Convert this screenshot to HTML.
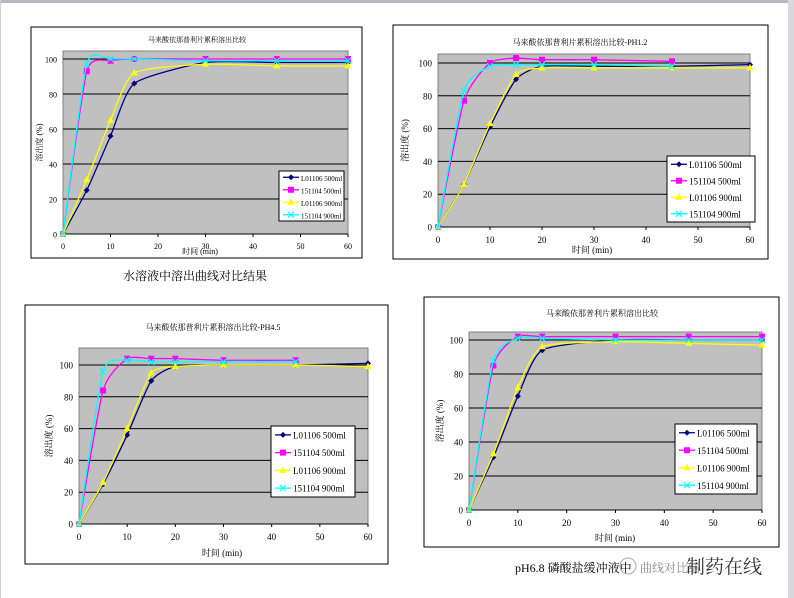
<!DOCTYPE html>
<html><head><meta charset="utf-8"><style>
html,body{margin:0;padding:0;background:#fff}
body{width:794px;height:598px;overflow:hidden;position:relative}
svg{position:absolute;left:0;top:0}
text{font-family:"Liberation Serif","Noto Serif CJK SC",serif;fill:#000}
</style></head><body>
<svg id="s" width="794" height="598" viewBox="0 0 794 598" xmlns="http://www.w3.org/2000/svg">
<rect x="0" y="0" width="794" height="3" fill="#b8b8c0"/>
<rect x="788" y="0" width="6" height="598" fill="#d8d8dc"/>
<rect x="0" y="0" width="1" height="598" fill="#d0d0d0"/>
<text x="195" y="280" font-size="12" text-anchor="middle" font-family="Liberation Sans,Noto Sans CJK SC,sans-serif">水溶液中溶出曲线对比结果</text>
<text x="515" y="572" font-size="12" font-family="Liberation Serif,Noto Serif CJK SC,serif">pH6.8 磷酸盐缓冲液中</text>
<text x="640" y="572" font-size="12" font-family="Liberation Serif,Noto Serif CJK SC,serif" style="fill:#888">曲线对比结</text>
<circle cx="628" cy="566" r="8" fill="none" stroke="#aaa"/>
<text x="686" y="573" font-size="19" font-family="Liberation Sans,Noto Sans CJK SC,sans-serif" style="fill:#333">制药在线</text>
</svg>
<script>
const S=document.getElementById('s');const NS='http://www.w3.org/2000/svg';
function el(t,a,txt){const e=document.createElementNS(NS,t);for(const k in a)e.setAttribute(k,a[k]);if(txt)e.textContent=txt;S.appendChild(e);return e;}
const cols=['#000080','#ff00ff','#ffff00','#00ffff'];
const names=['L01106 500ml','151104 500ml','L01106 900ml','151104 900ml'];
function marker(k,x,y){
 const c=cols[k];
 if(k==0)el('polygon',{points:`${x},${y-3} ${x+3},${y} ${x},${y+3} ${x-3},${y}`,fill:c});
 else if(k==1)el('rect',{x:x-3,y:y-3,width:6,height:6,fill:c});
 else if(k==2)el('polygon',{points:`${x},${y-4} ${x+3.5},${y+2.5} ${x-3.5},${y+2.5}`,fill:c});
 else {el('path',{d:`M${x-3} ${y-3}L${x+3} ${y+3}M${x+3} ${y-3}L${x-3} ${y+3}`,stroke:c,'stroke-width':1.2});}
}
function smooth(p){let d=`M${p[0][0]} ${p[0][1]}`;for(let i=0;i<p.length-1;i++){const p0=p[i-1]||p[i],p1=p[i],p2=p[i+1],p3=p[i+2]||p2;const t=0.1;
d+=`C${p1[0]+(p2[0]-p0[0])*t} ${p1[1]+(p2[1]-p0[1])*t} ${p2[0]-(p3[0]-p1[0])*t} ${p2[1]-(p3[1]-p1[1])*t} ${p2[0]} ${p2[1]}`;}return d;}
function chart(o){
 el('rect',{x:o.fx,y:o.fy,width:o.fw,height:o.fh,fill:'#fff',stroke:'#000','stroke-width':1});
 const X=v=>o.x0+(o.x60-o.x0)*v/60, Y=v=>o.y0+(o.y100-o.y0)*v/100;
 el('rect',{x:o.x0,y:o.top,width:o.x60-o.x0,height:o.y0-o.top,fill:'#c0c0c0',stroke:'#808080','stroke-width':1});
 for(let v=20;v<=100;v+=20)el('line',{x1:o.x0,x2:o.x60,y1:Y(v),y2:Y(v),stroke:'#000','stroke-width':1});
 el('line',{x1:o.x0,x2:o.x60,y1:o.y0,y2:o.y0,stroke:'#000'});
 for(let v=0;v<=100;v+=20)el('text',{x:o.x0-6,y:Y(v)+3.5,'font-size':o.fs,'text-anchor':'end'},String(v));
 for(let v=0;v<=60;v+=10){el('text',{x:X(v),y:o.y0+o.fs+7,'font-size':o.fs,'text-anchor':'middle'},String(v));el('line',{x1:X(v),x2:X(v),y1:o.y0,y2:o.y0+3,stroke:'#000'});}
 el('text',{x:o.tx,y:o.ty,'font-size':o.fs-1,'text-anchor':'middle','font-family':'Liberation Sans,Noto Sans CJK SC,sans-serif'},o.title);
 el('text',{x:o.xlx,y:o.xly,'font-size':o.fs,'text-anchor':'middle','font-family':'Liberation Sans,Noto Sans CJK SC,sans-serif'},'时间 (min)');
 el('text',{x:0,y:0,'font-size':o.fs,'text-anchor':'middle',transform:`translate(${o.ylx},${(o.y0+o.top)/2}) rotate(-90)`},'溶出度 (%)');
 o.data.forEach((d,k)=>{const pts=d.map(q=>[X(q[0]),Y(q[1])]);el('path',{d:smooth(pts),fill:'none',stroke:cols[k],'stroke-width':1.3});pts.forEach(p=>marker(k,p[0],p[1]));});
 const L=o.leg;el('rect',{x:L[0],y:L[1],width:L[2],height:L[3],fill:'#fff',stroke:'#000'});
 for(let k=0;k<4;k++){const yy=L[1]+L[3]*(k+0.5)/4;el('line',{x1:L[0]+4,x2:L[0]+20,y1:yy,y2:yy,stroke:cols[k],'stroke-width':1.3});marker(k,L[0]+12,yy);el('text',{x:L[0]+22,y:yy+3.5,'font-size':o.lfs},names[k]);}
}
chart({fx:31,fy:27,fw:331,fh:231,x0:63,x60:348,y0:234,y100:59,top:51,fs:8,lfs:7,tx:197,ty:42,title:'马来酸依那普利片累积溶出比较',xlx:200,xly:254,ylx:42,leg:[279,171,65,50],
data:[[[0,0],[5,25],[10,56],[15,86],[30,98],[45,98],[60,98]],[[0,0],[5,93],[10,99],[15,100],[30,100],[45,100],[60,100]],[[0,0],[5,31],[10,65],[15,92],[30,97],[45,96],[60,96]],[[0,0],[5,97],[10,100],[15,100],[30,99],[45,99],[60,99]]]});
chart({fx:393,fy:25,fw:375,fh:234,x0:438,x60:750,y0:227,y100:63,top:54,fs:9,lfs:9,tx:580,ty:45,title:'马来酸依那普利片累积溶出比较-PH1.2',xlx:592,xly:253,ylx:408,leg:[667,156,88,66],
data:[[[0,0],[5,26],[10,61],[15,90],[20,98],[30,98],[45,98],[60,99]],[[0,0],[5,77],[10,100],[15,103],[20,102],[30,102],[45,101]],[[0,0],[5,26],[10,63],[15,93],[20,97],[30,97],[45,97],[60,97]],[[0,0],[5,83],[10,98],[15,99],[20,99],[30,99],[45,98]]]});
chart({fx:25,fy:305,fw:363,fh:259,x0:79,x60:368,y0:524,y100:365,top:348,fs:9,lfs:9,tx:213,ty:330,title:'马来酸依那普利片累积溶出比较-PH4.5',xlx:222,xly:556,ylx:52,leg:[271,426,84,71],
data:[[[0,0],[5,25],[10,56],[15,90],[20,99],[30,100],[45,100],[60,101]],[[0,0],[5,84],[10,104],[15,104],[20,104],[30,103],[45,103]],[[0,0],[5,26],[10,60],[15,95],[20,99],[30,100],[45,100],[60,99]],[[0,0],[5,96],[10,103],[15,102],[20,102],[30,102],[45,102]]]});
chart({fx:424,fy:297,fw:355,fh:250,x0:469,x60:762,y0:510,y100:340,top:332,fs:9,lfs:9,tx:602,ty:316,title:'马来酸依那普利片累积溶出比较',xlx:615,xly:541,ylx:443,leg:[675,424,82,70],
data:[[[0,0],[5,31],[10,67],[15,94],[30,100],[45,100],[60,100]],[[0,0],[5,85],[10,102],[15,102],[30,102],[45,102],[60,102]],[[0,0],[5,33],[10,72],[15,96],[30,99],[45,98],[60,97]],[[0,0],[5,88],[10,101],[15,101],[30,100],[45,100],[60,100]]]});
</script>
</body></html>
